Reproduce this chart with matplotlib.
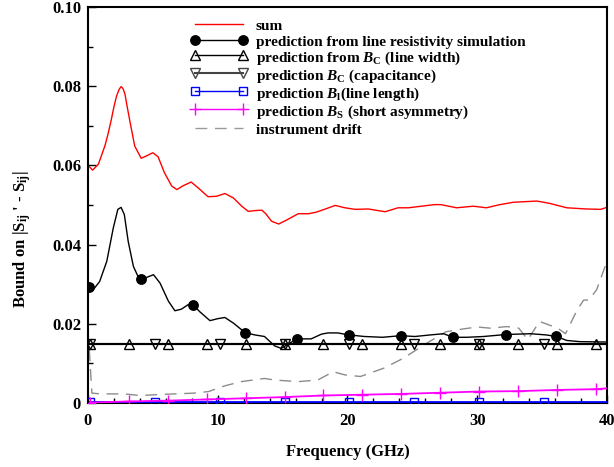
import numpy as np
import matplotlib
matplotlib.use("Agg")
from matplotlib import pyplot as plt
from matplotlib.lines import Line2D
from matplotlib.ticker import MultipleLocator, FuncFormatter

plt.rcParams['font.family'] = 'Liberation Serif'
plt.rcParams['font.weight'] = 'bold'
plt.rcParams['mathtext.fontset'] = 'custom'
plt.rcParams['mathtext.rm'] = 'Liberation Serif:bold'
plt.rcParams['mathtext.it'] = 'Liberation Serif:italic:bold'
plt.rcParams['mathtext.bf'] = 'Liberation Serif:bold'

# sum of all contributions
sum_f = [0.1, 0.35, 0.8, 1.3, 1.55, 1.8, 2.0, 2.2, 2.4, 2.55, 2.7, 2.85, 3.0, 3.25, 3.6,
         4.1, 4.5, 5.0, 5.4, 5.9, 6.45, 6.85, 7.35, 7.95, 8.5, 9.25, 9.9, 10.55, 11.2,
         11.85, 12.35, 12.9, 13.4, 13.7, 14.15, 14.7, 15.3, 16.2, 17.0, 17.6, 18.3,
         19.05, 19.8, 20.6, 21.6, 22.9, 23.9, 24.7, 25.7, 26.7, 27.2, 28.4, 29.7, 30.7,
         31.75, 32.8, 34.6, 35.6, 36.9, 38.4, 39.5, 40.0]
sum_v = [0.0597, 0.0588, 0.0603, 0.0649, 0.0680, 0.0716, 0.0748, 0.0775, 0.0792, 0.0799,
         0.0794, 0.0780, 0.0752, 0.0708, 0.0649, 0.0618, 0.0624, 0.0632, 0.0622, 0.0581,
         0.0548, 0.0539, 0.0549, 0.0558, 0.0543, 0.0521, 0.0522, 0.0529, 0.0518, 0.0497,
         0.0484, 0.0486, 0.0487, 0.0478, 0.0459, 0.0452, 0.0462, 0.0478, 0.0478, 0.0482,
         0.0490, 0.0499, 0.0493, 0.0489, 0.0490, 0.0483, 0.0493, 0.0493, 0.0497, 0.0501,
         0.0501, 0.0493, 0.0497, 0.0493, 0.0501, 0.0507, 0.0510, 0.0504, 0.0493, 0.0490,
         0.0489, 0.0494]

# line resistivity simulation
res_f = [0.1, 0.4, 0.9, 1.45, 1.95, 2.3, 2.55, 2.8, 3.1, 3.5, 3.85, 4.1, 4.5, 5.05, 5.55,
         6.2, 6.7, 7.2, 7.7, 8.1, 8.6, 9.4, 10.0, 10.55, 11.2, 12.1, 12.85, 13.6, 14.4,
         14.9, 15.55, 16.1, 17.2, 18.0, 18.5, 19.25, 20.1, 21.3, 22.7, 24.1, 25.2, 26.4,
         27.4, 28.15, 29.2, 30.5, 32.2, 34.1, 35.3, 36.1, 36.9, 37.9, 40.0]
res_v = [0.0294, 0.0286, 0.0307, 0.0358, 0.0442, 0.0489, 0.0494, 0.0476, 0.0408, 0.0345,
         0.0320, 0.0314, 0.0317, 0.0324, 0.0303, 0.0257, 0.0233, 0.0237, 0.0248, 0.0248,
         0.0231, 0.0208, 0.0213, 0.0216, 0.0202, 0.0178, 0.0172, 0.0168, 0.0144, 0.0138,
         0.0151, 0.0162, 0.0162, 0.0174, 0.0177, 0.0177, 0.0172, 0.0168, 0.0166, 0.0170,
         0.0168, 0.0172, 0.0175, 0.0166, 0.0166, 0.0168, 0.0173, 0.0175, 0.0172, 0.0168,
         0.0158, 0.0155, 0.0154]
res_marks = [0.1, 4.1, 8.1, 12.1, 16.1, 20.1, 24.1, 28.15, 32.2, 36.1]

# B_C line width
width_f = [0.15, 3.15, 6.15, 9.15, 12.15, 15.15, 18.15, 21.15, 24.15, 27.15, 30.15,
           33.15, 36.15, 39.15, 40.0]
width_v = [0.015] * 15

# B_C capacitance
cap_f = [0.15, 5.15, 10.15, 15.15, 20.15, 25.15, 30.15, 35.15, 40.0]
cap_v = [0.015] * 9

# B_l line length
len_f = [0.15, 5.15, 10.15, 15.15, 20.15, 25.15, 30.15, 35.15, 40.0]
len_v = [0.0002] * 9

# B_S short asymmetry
asym_f = [0.15, 3.15, 6.15, 9.15, 12.15, 15.15, 18.15, 21.15, 24.15, 27.15, 30.15,
          33.15, 36.15, 39.15, 40.0]
asym_v = [0.0001, 0.0004, 0.0006, 0.0009, 0.0012, 0.0015, 0.0019, 0.0021, 0.0023,
          0.0026, 0.0029, 0.0030, 0.0033, 0.0035, 0.0037]

# instrument drift
drift_f = [0.1, 0.3, 1.0, 2.8, 4.0, 5.9, 8.2, 9.3, 10.5, 11.8, 13.6, 14.4, 16.2, 17.7,
           18.9, 19.8, 21.0, 22.8, 24.3, 26.1, 27.6, 28.9, 30.0, 31.0, 32.3, 33.2, 33.9,
           34.8, 36.2, 36.8, 37.7, 38.2, 38.6, 39.2, 40.0]
drift_v = [0.0135, 0.0025, 0.0023, 0.0023, 0.0019, 0.0022, 0.0025, 0.0029, 0.0043,
           0.0054, 0.0062, 0.0058, 0.0054, 0.0058, 0.0079, 0.0071, 0.0067, 0.0088,
           0.0113, 0.0151, 0.0180, 0.0187, 0.0192, 0.0189, 0.0193, 0.0189, 0.0160,
           0.0206, 0.0189, 0.0175, 0.0235, 0.0260, 0.0260, 0.0286, 0.0358]

labels = ["sum",
          "prediction from line resistivity simulation",
          r"prediction from $B_{\rm C}$ (line width)",
          r"prediction $B_{\rm C}$ (capacitance)",
          r"prediction $B_{\rm l}$(line length)",
          r"prediction $B_{\rm S}$ (short asymmetry)",
          "instrument drift"]

fig = plt.figure(figsize=(6.14, 4.67), dpi=100)
ax = fig.add_axes([0.1433, 0.137, 0.8453, 0.848])

drift_dash = (8.5, 5.5)
ax.plot(drift_f, drift_v, color="#8c8c8c", lw=1.0, dashes=drift_dash)
ax.plot(len_f, len_v, color="#0000ff", lw=2.0, marker="s", ms=6, mfc="none",
        mew=1.0, markevery=slice(0, -1), zorder=3)
ax.plot(asym_f, asym_v, color="#ff00ff", lw=1.3, marker="+", ms=9, mew=1.0,
        markevery=slice(0, -1), zorder=3)
ax.plot(width_f, width_v, color="black", lw=1.5, marker="^", ms=6.5, mfc="none",
        mew=1.0, markevery=slice(0, -1))
ax.plot(cap_f, cap_v, color="black", lw=1.5, marker="v", ms=6.5, mfc="none",
        mew=1.0, markevery=slice(0, -1))
ax.plot(res_f, res_v, color="black", lw=1.0, marker="o", ms=6.8,
        markevery=[res_f.index(f) for f in res_marks])
ax.plot(sum_f, sum_v, color="#ff0000", lw=1.0)

handles = [Line2D([], [], color="#ff0000", lw=1.0),
           Line2D([], [], color="black", lw=1.0, marker="o", ms=6.8),
           Line2D([], [], color="black", lw=1.0, marker="^", ms=6.5, mfc="none", mew=1.0),
           Line2D([], [], color="#444444", lw=1.5, marker="v", ms=6.5, mfc="none", mew=1.0),
           Line2D([], [], color="#0000ff", lw=1.0, marker="s", ms=6, mfc="none", mew=1.0),
           Line2D([], [], color="#ff00ff", lw=1.0, marker="+", ms=9, mew=1.0),
           Line2D([], [], color="#999999", lw=1.0, dashes=drift_dash)]
# a tall handle box keeps the rows evenly spaced
ax.legend(handles, labels, loc="upper left", bbox_to_anchor=(0.198, 0.974),
          frameon=False, fontsize=11, numpoints=2, handlelength=3.75,
          handleheight=1.17, handletextpad=0.5, labelspacing=0.0,
          borderpad=0, borderaxespad=0)

ax.set_xlim(0, 40)
ax.set_ylim(0, 0.10)
ax.xaxis.set_major_locator(MultipleLocator(10))
ax.xaxis.set_minor_locator(MultipleLocator(2))
ax.yaxis.set_major_locator(MultipleLocator(0.02))
ax.yaxis.set_minor_locator(MultipleLocator(0.01))
ax.yaxis.set_major_formatter(FuncFormatter(lambda v, p: "0" if v == 0 else "%.2f" % v))
ax.tick_params(which="both", direction="in", labelsize=12, top=False, right=False)
ax.tick_params(which="major", length=6, width=1.0)
ax.tick_params(which="minor", length=3.5, width=1.0)
ax.tick_params(axis="x", pad=7)
ax.tick_params(axis="y", pad=5)
for s in ax.spines.values():
    s.set_linewidth(1.5)

ax.set_xlabel("Frequency (GHz)", fontsize=12, fontweight="bold")
ax.set_ylabel(r"Bound on |S$_{\rm ij}$ ' - S$_{\rm ij}$|", fontsize=12, fontweight="bold")
ax.xaxis.set_label_coords(0.5, -0.103)
ax.yaxis.set_label_coords(-0.105, 0.414)

fig.savefig("out.png", dpi=100)
